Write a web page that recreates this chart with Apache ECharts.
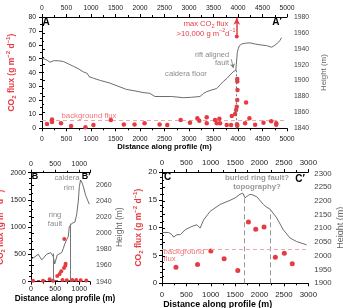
<!DOCTYPE html>
<html>
<head>
<meta charset="utf-8">
<script src="https://cdn.jsdelivr.net/npm/echarts@6/dist/echarts.min.js"></script>
<style>
html, body { margin: 0; padding: 0; background: #fff; }
#chart { width: 343px; height: 308px; }
</style>
</head>
<body>
<div id="chart"></div>
<script>
// profile A-A' : distance (m) vs height (m) and CO2 flux
const elevA = [
  [0,1928],[60,1927],[120,1925],[163,1923],[230,1925],[333,1925],[435,1924],[540,1921],[640,1918],
  [740,1915],[843,1911],[925,1909],[960,1905],[1047,1903],[1200,1900],[1380,1897],[1550,1893],
  [1720,1889],[1900,1887],[2060,1885],[2200,1884],[2305,1880],[2450,1880],[2645,1880],[2883,1878.5],
  [3050,1879],[3223,1880],[3300,1884],[3360,1886],[3450,1888],[3564,1890],[3640,1895],[3700,1899],
  [3780,1903],[3835,1907],[3900,1911],[3937,1913],[3955,1913],[3965,1920],[3985,1935],[4005,1940],
  [4030,1944],[4074,1946],[4150,1947],[4243,1947.5],[4350,1946],[4447,1945],[4580,1944],[4686,1942],
  [4740,1944],[4788,1946],[4850,1950],[4890,1954]
];
const fluxA = [
  [102,3.1],[204,6.3],[204,4.5],[388,3.6],[593,1.7],[887,0.7],[1050,2.4],[1405,6.0],[1670,2.7],
  [1888,2.7],[2093,3.6],[2400,2.7],[2556,2.4],[2830,6.0],[3020,4.0],[3170,7.2],[3210,5.5],[3362,7.9],
  [3362,3.6],[3532,6.0],[3566,3.6],[3620,6.9],[3634,3.6],[3770,2.4],[3859,2.4],[3873,8.9],[3941,10.3],
  [3961,13.2],[3975,15.5],[3985,20.4],[3990,27.6],[3985,33.6],[3985,35.5],[3980,3.0],[3985,1.8],
  [4145,3.6],[4165,18.5],[4233,7.2],[4350,2.6],[4520,4.0],[4677,5.0],[4780,3.6],[4780,2.6]
];
// profile B-B'
const elevB = [
  [0,1968],[62,1970],[151,1974],[221,1967],[324,1974],[407,1976],[461,1971],[490,1962],[510,1961],
  [543,1973],[634,1976],[667,1981],[700,1987],[738,1992],[771,1996],[791,2008],[841,2012],[909,2014],
  [944,2023],[977,2039],[1000,2058],[1025,2066],[1060,2062],[1095,2055],[1130,2047],[1184,2039],[1205,2036]
];
const fluxB = [
  [41,18],[248,18],[386,44],[455,18],[543,105],[593,140],[626,190],[682,250],[709,294],[716,330],
  [688,784],[651,30],[740,25],[853,30],[935,30],[1027,25],[1143,20]
];
// profile C-C'
const elevC = [
  [0,2085],[136,2085],[204,2077],[238,2068],[306,2077],[374,2077],[477,2095],[613,2107],[716,2113],
  [783,2101],[851,2130],[988,2162],[1193,2187],[1397,2202],[1499,2211],[1601,2224],[1656,2228],
  [1703,2211],[1792,2223],[1840,2223],[1943,2215],[2078,2187],[2147,2177],[2215,2170],[2352,2138],
  [2487,2095],[2624,2065],[2760,2052],[2965,2040]
];
const fluxC = [
  [286,2.9],[729,3.4],[1002,5.8],[1274,4.4],[1554,2.3],[1772,11.0],[1922,9.7],[2092,10.1],
  [2324,4.7],[2508,5.4],[2671,3.5]
];
const backgroundFlux = { A: 6, B: 20, C: 6.2 };

const RED = '#e63b43';
const PINK = '#f4a3a6';
const GREY = '#8a8a8a';
const FONT = '"Liberation Sans", Arial, sans-serif';

function fluxName(fs) {
  const base = { fontSize: fs, fontWeight: 'bold', color: RED, fontFamily: FONT, lineHeight: fs * 1.4 };
  return {
    name: '{b|CO}{s|2}{b| flux (g m}{p|−2}{b| d}{p|−1}{b|)}',
    nameTextStyle: {
      rich: {
        b: base,
        s: Object.assign({}, base, { fontSize: fs * 0.7, lineHeight: null, verticalAlign: 'bottom' }),
        p: Object.assign({}, base, { fontSize: fs * 0.7, lineHeight: null, verticalAlign: 'top' })
      }
    }
  };
}

function tickOnly(step) {
  return v => (Math.abs(v / step - Math.round(v / step)) < 1e-6 ? String(v) : '');
}

function xAxes(grid, max, fs, nameFs, gap, pad, marginB, marginT) {
  const common = {
    type: 'value', gridIndex: grid, min: 0, max: max, interval: 500,
    axisLine: { lineStyle: { color: '#000', width: 1 } },
    axisTick: { length: 3, lineStyle: { color: '#000' } },
    minorTick: { show: true, splitNumber: 2, length: 2, lineStyle: { color: '#000' } },
    splitLine: { show: false },
  };
  return [
    Object.assign({}, common, {
      position: 'bottom',
      axisLabel: { fontSize: fs, color: '#222', margin: marginB, fontFamily: FONT, formatter: tickOnly(500) },
      name: 'Distance along profile (m)', nameLocation: 'middle', nameGap: gap,
      nameTextStyle: { fontSize: nameFs, fontWeight: 'bold', color: '#000', fontFamily: FONT, padding: pad }
    }),
    Object.assign({}, common, {
      position: 'top',
      axisLabel: { fontSize: fs, color: '#222', margin: marginT, fontFamily: FONT, formatter: tickOnly(500) }
    })
  ];
}

function yLeft(grid, max, interval, minor, fs, nameFs, gap, margin) {
  return Object.assign({
    type: 'value', gridIndex: grid, position: 'left', min: 0, max: max, interval: interval,
    axisLine: { show: true, lineStyle: { color: '#000' } },
    axisTick: { show: true, length: 3, lineStyle: { color: '#000' } },
    minorTick: { show: true, splitNumber: minor, length: 2, lineStyle: { color: '#000' } },
    splitLine: { show: false },
    axisLabel: { fontSize: fs, color: '#222', margin: margin, fontFamily: FONT, formatter: v => String(v) },
    nameLocation: 'middle', nameGap: gap, nameRotate: 90
  }, fluxName(nameFs));
}

function yRight(grid, min, max, interval, fs, nameFs, gap, margin) {
  return {
    type: 'value', gridIndex: grid, position: 'right', min: min, max: max, interval: interval,
    axisLine: { show: true, lineStyle: { color: '#000' } },
    axisTick: { show: true, length: 3, lineStyle: { color: '#000' } },
    minorTick: { show: true, splitNumber: 2, length: 2, lineStyle: { color: '#000' } },
    splitLine: { show: false },
    axisLabel: { fontSize: fs, color: '#444', margin: margin, fontFamily: FONT, formatter: tickOnly(interval) },
    name: 'Height (m)', nameLocation: 'middle', nameGap: gap, nameRotate: 90,
    nameTextStyle: { fontSize: nameFs, color: '#666', fontFamily: FONT }
  };
}

const lineStyleElev = { color: '#5c5c5c', width: 0.9 };
const dashBg = { color: PINK, type: [4, 3], width: 1.2 };
const dots = { color: RED, opacity: 1 };

function txt(x, y, text, fs, fill, opts) {
  return {
    type: 'text', x: x, y: y, silent: true,
    style: Object.assign({
      text: text, fill: fill, fontSize: fs, fontFamily: FONT,
      align: 'center', verticalAlign: 'middle', textAlign: 'center', textVerticalAlign: 'middle'
    }, opts || {})
  };
}

const supRich = fs => ({
  n: { fontSize: fs, fill: RED, color: RED, fontFamily: FONT, lineHeight: fs * 1.4 },
  s: { fontSize: fs * 0.7, fill: RED, color: RED, fontFamily: FONT, verticalAlign: 'bottom' },
  p: { fontSize: fs * 0.7, fill: RED, color: RED, fontFamily: FONT, verticalAlign: 'top' }
});

const option = {
  animation: false,
  grid: [
    { left: 42, top: 17, width: 245, height: 111.3, outerBoundsMode: 'none', containLabel: false },
    { left: 31, top: 172.7, width: 59, height: 109, outerBoundsMode: 'none', containLabel: false },
    { left: 162, top: 172, width: 146.3, height: 111.3, outerBoundsMode: 'none', containLabel: false }
  ],
  xAxis: [].concat(
    xAxes(0, 5000, 6.8, 7.7, 15, [0, 0, 0, 0], 7, 5),
    xAxes(1, 1220, 7, 8.2, 13, [0, 0, 0, 9], 4, 5),
    xAxes(2, 3000, 7.8, 8.9, 16, [0, 35, 0, 0], 8, 5)
  ),
  yAxis: [
    yLeft(0, 80, 10, 2, 6.8, 8.5, 20, 6),
    yRight(0, 1840, 1980, 20, 6.8, 7.9, 24, 7),
    yLeft(1, 2000, 500, 5, 7, 8.2, 20, 5),
    yRight(1, 1940, 2075, 20, 7, 8.5, 22, 6),
    yLeft(2, 20, 5, 5, 7.8, 8.5, 13, 5),
    yRight(2, 1900, 2305, 50, 7.8, 9, 23, 6)
  ],
  series: [
    {
      type: 'line', xAxisIndex: 0, yAxisIndex: 1, data: elevA, symbol: 'none', lineStyle: lineStyleElev, z: 2,
      markLine: {
        silent: true, symbol: 'none', label: { show: false },
        data: [
          [{ coord: [3970, 1840], lineStyle: { color: '#777', type: [2, 2], width: 1 } }, { coord: [3970, 1913] }],
          [{ coord: [3862, 1927], lineStyle: { color: '#777', width: 0.8, type: 'solid' } },
           { coord: [3905, 1916], symbol: 'arrow', symbolSize: 4 }]
        ]
      }
    },
    {
      type: 'scatter', xAxisIndex: 0, yAxisIndex: 0, data: fluxA, symbolSize: 4.5,
      itemStyle: dots, z: 3,
      markLine: {
        silent: true, symbol: 'none', label: { show: false }, z: 1,
        data: [
          { yAxis: backgroundFlux.A, lineStyle: dashBg },
          [{ coord: [3975, 66], symbol: 'circle', symbolSize: 4, lineStyle: { color: RED, width: 1.5, type: 'solid' } },
           { coord: [3975, 79.5], symbol: 'arrow', symbolSize: [5, 7] }]
        ]
      }
    },
    {
      type: 'line', xAxisIndex: 2, yAxisIndex: 3, data: elevB, symbol: 'none', lineStyle: lineStyleElev, z: 2,
      markLine: {
        silent: true, symbol: 'none', label: { show: false },
        lineStyle: { color: '#777', width: 1, type: 'solid' },
        data: [
          [{ coord: [455, 1940] }, { coord: [455, 1975] }],
          [{ coord: [805, 1940] }, { coord: [805, 2012] }]
        ]
      }
    },
    {
      type: 'scatter', xAxisIndex: 2, yAxisIndex: 2, data: fluxB, symbolSize: 4,
      itemStyle: dots, z: 3,
      markLine: {
        silent: true, symbol: 'none', label: { show: false },
        data: [{ yAxis: backgroundFlux.B, lineStyle: { color: RED, type: [3, 3], width: 1 } }]
      }
    },
    {
      type: 'line', xAxisIndex: 4, yAxisIndex: 5, data: elevC, symbol: 'none', lineStyle: lineStyleElev, z: 2,
      markLine: {
        silent: true, symbol: 'none', label: { show: false },
        lineStyle: { color: '#999', width: 1, type: [5, 3] },
        data: [
          [{ coord: [1683, 1900] }, { coord: [1683, 2222] }],
          [{ coord: [2215, 1900] }, { coord: [2215, 2170] }]
        ]
      }
    },
    {
      type: 'scatter', xAxisIndex: 4, yAxisIndex: 4, data: fluxC, symbolSize: 5,
      itemStyle: dots, z: 3,
      markLine: {
        silent: true, symbol: 'none', label: { show: false },
        data: [{ yAxis: backgroundFlux.C, lineStyle: dashBg }]
      }
    }
  ],
  graphic: [
    txt(46, 22, 'A', 10, '#000', { fontWeight: 'bold' }),
    txt(277, 22, 'A\u2032', 10, '#000', { fontWeight: 'bold' }),
    txt(186, 74, 'caldera floor', 7.6, GREY),
    txt(229, 55, 'rift aligned', 7.4, GREY, { align: 'right', textAlign: 'right' }),
    txt(229, 63, 'fault', 7.4, GREY, { align: 'right', textAlign: 'right' }),
    txt(206, 24, '{n|max CO}{s|2}{n| flux}', 7.6, RED, { rich: supRich(7.6) }),
    txt(206, 33.5, '{n|>10,000 g m}{p|−2}{n|d}{p|−1}', 7.6, RED, { rich: supRich(7.6) }),
    txt(89, 116, 'background flux', 7.8, '#f07478'),
    txt(35, 177, 'B', 9, '#000', { fontWeight: 'bold' }),
    txt(86, 177, 'B\u2032', 9, '#000', { fontWeight: 'bold' }),
    txt(67, 178, 'caldera', 7.6, GREY),
    txt(69, 188, 'rim', 7.6, GREY),
    txt(55, 215, 'ring', 7.6, GREY),
    txt(55, 224, 'fault', 7.6, GREY),
    txt(167.5, 177, 'C', 10, '#000', { fontWeight: 'bold' }),
    txt(300, 179, 'C\u2032', 10, '#000', { fontWeight: 'bold' }),
    txt(257, 178.3, 'buried ring fault?', 7.8, '#999', { fontWeight: 'bold' }),
    txt(257, 187.3, 'topography?', 7.8, '#999', { fontWeight: 'bold' }),
    txt(163.5, 251.7, 'background', 7.8, '#f07478', { align: 'left', textAlign: 'left' }),
    txt(163.5, 259, 'flux', 7.8, '#f07478', { align: 'left', textAlign: 'left' })
  ]
};

const chart = echarts.init(document.getElementById('chart'));
chart.setOption(option);
window.addEventListener('resize', () => chart.resize());
</script>
</body>
</html>
